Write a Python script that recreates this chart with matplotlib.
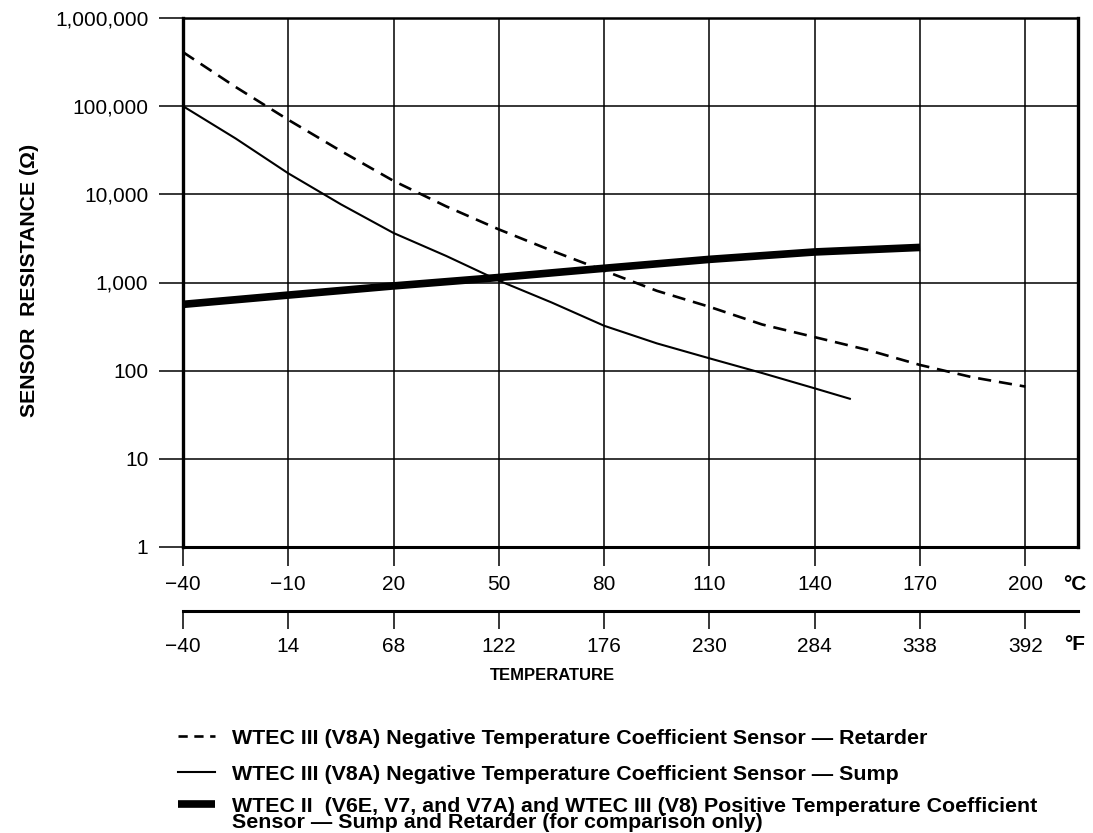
import matplotlib
matplotlib.use('Agg')
import matplotlib.pyplot as plt
from matplotlib.ticker import FixedLocator, FixedFormatter, NullLocator

plt.rcParams['font.family'] = ['Liberation Sans', 'DejaVu Sans']

# ---------------- data ----------------
ret_temp = [-40, -25, -10, 5, 20, 35, 50, 65, 80, 95, 110, 125, 140, 155, 170, 185, 200]
ret_ohm = [410000, 165000, 70000, 31000, 14200, 7300, 4000, 2300, 1360, 805, 530,
           334, 240, 172, 116, 84, 66]

sump_temp = [-40, -25, -10, 5, 20, 35, 50, 65, 80, 95, 110, 125, 140, 150]
sump_ohm = [100000, 43000, 17300, 7700, 3640, 2000, 1050, 594, 323, 204, 138, 94, 63, 48]

ptc_temp = [-40, -10, 20, 50, 80, 110, 140, 170]
ptc_ohm = [565, 720, 915, 1140, 1450, 1830, 2220, 2500]

c_ticks = [-40, -10, 20, 50, 80, 110, 140, 170, 200]
c_labels = ['\u221240', '\u221210', '20', '50', '80', '110', '140', '170', '200']
f_labels = ['\u221240', '14', '68', '122', '176', '230', '284', '338', '392']
y_ticks = [1, 10, 100, 1000, 10000, 100000, 1000000]
y_labels = ['1', '10', '100', '1,000', '10,000', '100,000', '1,000,000']

legend_labels = [
    'WTEC III (V8A) Negative Temperature Coefficient Sensor \u2014 Retarder',
    'WTEC III (V8A) Negative Temperature Coefficient Sensor \u2014 Sump',
    'WTEC II  (V6E, V7, and V7A) and WTEC III (V8) Positive Temperature Coefficient',
]
legend_label_cont = 'Sensor \u2014 Sump and Retarder (for comparison only)'

# ---------------- layout ----------------
W, H = 1093, 833
fig = plt.figure(figsize=(W / 100, H / 100), dpi=100)


def fx(px):
    return px / W


def fy(py):
    return 1 - py / H


ax = fig.add_axes([fx(183), fy(547), fx(1078) - fx(183), fy(18) - fy(547)])
ax.set_yscale('log')
ax.set_ylim(1, 1e6)
ax.set_xlim(-40, 215)

ax.plot(ret_temp, ret_ohm, color='black', lw=1.9, linestyle=(0, (5, 3)), zorder=3)
ax.plot(sump_temp, sump_ohm, color='black', lw=1.5, zorder=3)
ax.plot(ptc_temp, ptc_ohm, color='black', lw=5.5, solid_capstyle='butt', zorder=4)

ax.xaxis.set_major_locator(FixedLocator(c_ticks))
ax.xaxis.set_major_formatter(FixedFormatter(c_labels))
ax.yaxis.set_major_locator(FixedLocator(y_ticks))
ax.yaxis.set_major_formatter(FixedFormatter(y_labels))
ax.yaxis.set_minor_locator(NullLocator())
ax.xaxis.set_minor_locator(NullLocator())

ax.grid(True, which='major', color='black', lw=1.1)
ax.tick_params(axis='y', direction='out', length=17, width=1.1, pad=8,
               labelsize=15, colors='black')
ax.tick_params(axis='x', direction='out', length=14, width=1.1, pad=6,
               labelsize=15, colors='black')

ax.spines['left'].set_linewidth(2.4)
ax.spines['bottom'].set_linewidth(2.2)
ax.spines['top'].set_linewidth(1.8)
ax.spines['right'].set_linewidth(2.4)

# Fahrenheit axis (same positions, different labels)
loc = (547 - 611) / (547 - 18)
sec = ax.secondary_xaxis(loc)
sec.xaxis.set_major_locator(FixedLocator(c_ticks))
sec.xaxis.set_major_formatter(FixedFormatter(f_labels))
sec.xaxis.set_minor_locator(NullLocator())
sec.spines['bottom'].set_linewidth(2.2)
sec.tick_params(axis='x', direction='out', length=13, width=1.1, pad=6,
                labelsize=15, colors='black')

fig.text(fx(1075), fy(585), '\u00b0C', ha='center', va='center',
         fontsize=15, weight='bold')
fig.text(fx(1075), fy(645), '\u00b0F', ha='center', va='center',
         fontsize=15, weight='bold')
fig.text(fx(552), fy(676), 'TEMPERATURE', ha='center', va='center',
         fontsize=12, weight='bold')

ylab = fig.text(fx(30), fy(280), 'SENSOR  RESISTANCE (\u03a9)', rotation=90,
                ha='center', va='center', fontsize=13, weight='bold')

# ---------------- legend ----------------
handle_styles = [
    dict(lw=1.9, linestyle=(0, (3.5, 2.5))),
    dict(lw=1.5, linestyle='-'),
    dict(lw=5.5, linestyle='-', solid_capstyle='butt'),
]
rows_y = [736, 772, 804]
texts = []
for st, yy, lab in zip(handle_styles, rows_y, legend_labels):
    fig.add_artist(plt.Line2D([fx(178), fx(215)], [fy(yy), fy(yy)],
                              color='black', transform=fig.transFigure, **st))
    t = fig.text(fx(232), fy(yy), lab, ha='left', va='center_baseline',
                 fontsize=12, weight='bold')
    texts.append(t)
texts.append(fig.text(fx(232), fy(rows_y[2] + 17), legend_label_cont, ha='left',
                      va='center_baseline', fontsize=12, weight='bold'))

# fit text sizes to the reference extents
renderer = fig.canvas.get_renderer()
w0 = texts[0].get_window_extent(renderer).width
fs = 12 * 690 / w0
for t in texts:
    t.set_fontsize(fs)
h0 = ylab.get_window_extent(renderer).height
ylab.set_fontsize(13 * 274 / h0)

fig.savefig('out.png', dpi=100)
